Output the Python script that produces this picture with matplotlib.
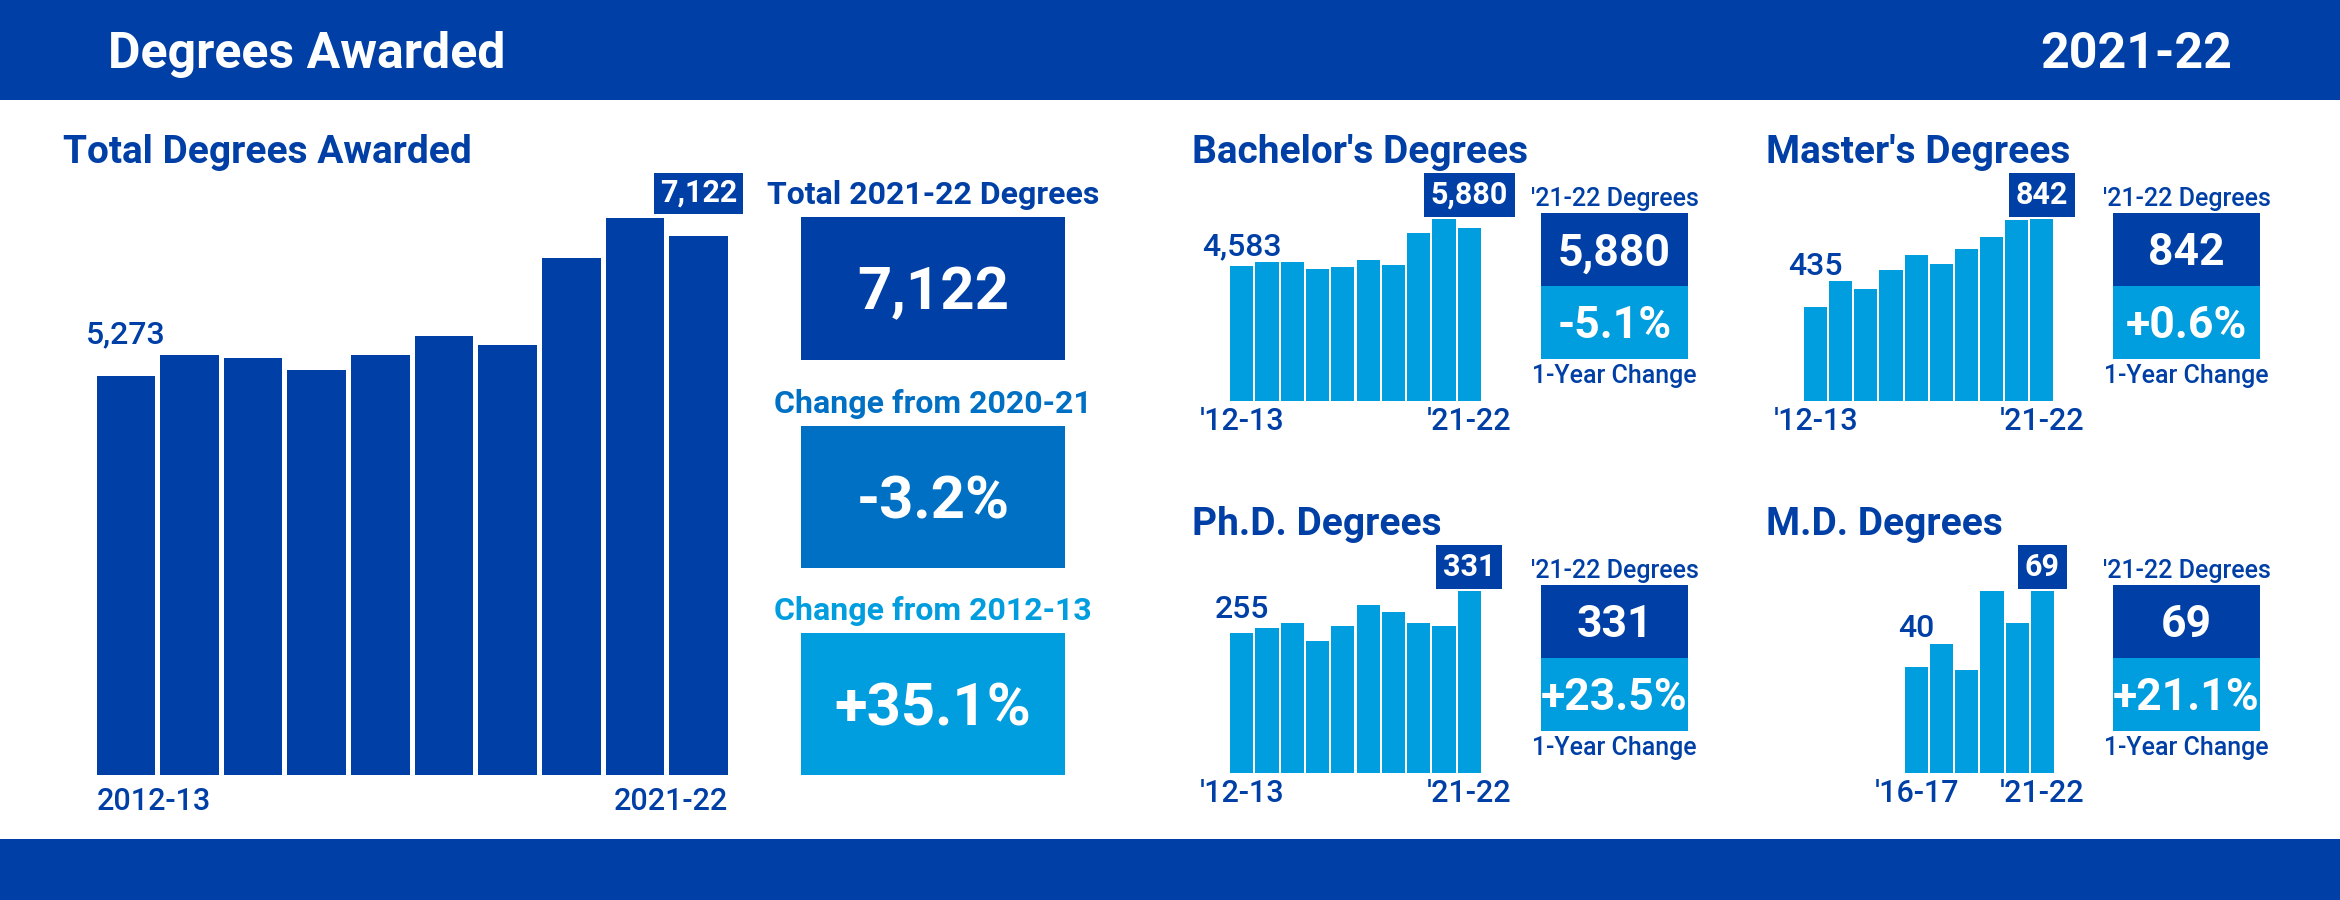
import matplotlib
matplotlib.use("Agg")
import matplotlib.pyplot as plt
from matplotlib.patches import Rectangle

plt.rcParams['font.family'] = ['Roboto', 'DejaVu Sans']

# ---------------- data ----------------
total_years = ['2012-13', '2013-14', '2014-15', '2015-16', '2016-17',
               '2017-18', '2018-19', '2019-20', '2020-21', '2021-22']
total = [5273, 5550, 5510, 5354, 5542, 5804, 5685, 6835, 7357, 7122]
bachelor = [4583, 4726, 4726, 4494, 4562, 4795, 4631, 5715, 6196, 5880]
master = [435, 556, 519, 607, 677, 635, 704, 760, 837, 842]
phd = [255, 264, 273, 240, 268, 306, 293, 273, 268, 331]
md = [40, 49, 39, 69, 57, 69]
short_first = ["'12-13", "'12-13", "'12-13", "'16-17"]
short_last = "'21-22"

# ---------------- styling ----------------
W, H = 2340, 900
DARK = '#003fa5'
MED = '#0070c4'
LIGHT = '#009ddf'
PX = 100 / 72.0  # pixels per point

fig = plt.figure(figsize=(W / 100, H / 100), dpi=100)
fig.patch.set_facecolor('white')


def rect(x0, y0, x1, y1, color):
    fig.add_artist(Rectangle((x0 / W, 1 - y1 / H), (x1 - x0) / W, (y1 - y0) / H,
                             transform=fig.transFigure, facecolor=color,
                             edgecolor='none', zorder=0))


def text(x, y, s, size, color, weight='bold', ha='left', va='baseline'):
    fig.text(x / W, 1 - y / H, s, fontsize=size, color=color, fontweight=weight,
             ha=ha, va=va)


def ctext(x, yc, s, size, color, weight='bold'):
    # vertically centre the cap/digit height on yc
    text(x, yc + 0.711 * size * PX / 2, s, size, color, weight, ha='center')


def fmt(v):
    return f'{v:,}'


def pct(a, b):
    return f'{(a / b - 1) * 100:+.1f}%'


# header / footer bands
rect(0, 0, W, 100, DARK)
rect(0, 839, W, H, DARK)
text(108, 68, 'Degrees Awarded', 36, 'white')
text(2232, 68, '2021-22', 36, 'white', ha='right')

# ---------------- total chart ----------------
text(63, 163, 'Total Degrees Awarded', 28, DARK)
unit = 63.63
left = 96.6 - 0.04 * unit
base, top = 775, 175
ax = fig.add_axes([left / W, 1 - base / H, 10 * unit / W, (base - top) / H])
ax.bar(range(len(total)), total, width=0.92, color=DARK)
ax.set_xlim(-0.5, len(total) - 0.5)
ax.set_ylim(0, max(total) * (base - top) / 557)
ax.axis('off')
ax.annotate(fmt(total[0]), xy=(0, total[0]), xytext=(0, 32), textcoords='offset pixels',
            ha='center', va='baseline', fontsize=23, fontweight='medium', color=DARK)
ax.annotate(fmt(total[-1]), xy=(len(total) - 1, max(total)), xytext=(0, 25),
            textcoords='offset pixels', ha='center', va='center', fontsize=22,
            fontweight='bold', color='white',
            bbox=dict(boxstyle='square,pad=0.18', fc=DARK, ec='none'))
ax.annotate(total_years[0], xy=(-0.46, 0), xytext=(0, -35), textcoords='offset pixels',
            ha='left', va='baseline', fontsize=22, fontweight='medium', color=DARK,
            annotation_clip=False)
ax.annotate(total_years[-1], xy=(len(total) - 0.54, 0), xytext=(0, -35),
            textcoords='offset pixels', ha='right', va='baseline', fontsize=22,
            fontweight='medium', color=DARK, annotation_clip=False)

# ---------------- main KPI column ----------------
kx0, kx1 = 801, 1065
kc = (kx0 + kx1) / 2
kpis = [('Total 2021-22 Degrees', fmt(total[-1]), DARK, DARK, 217, 360),
        ('Change from 2020-21', pct(total[-1], total[-2]), MED, MED, 426, 568),
        ('Change from 2012-13', pct(total[-1], total[0]), LIGHT, LIGHT, 633, 775)]
for label, val, tcol, bcol, y0, y1 in kpis:
    text(kc, y0 - 13, label, 23, tcol, ha='center')
    rect(kx0, y0, kx1, y1, bcol)
    ctext(kc, (y0 + y1) / 2, val, 43, 'white')


# ---------------- small multiples ----------------
def small(values, title, tx, tbase, bar_left, base, unit, first_lab, first_off,
          kx0, kx1, dark_top):
    n = len(values)
    text(tx, tbase, title, 28, DARK)
    left = bar_left - 0.04 * unit
    ax = fig.add_axes([left / W, 1 - base / H, n * unit / W, 201 / H])
    ax.bar(range(n), values, width=0.92, color=LIGHT)
    ax.set_xlim(-0.5, n - 0.5)
    ax.set_ylim(0, max(values) * 201 / 182)
    ax.axis('off')
    ax.annotate(fmt(values[0]), xy=(0, values[0]), xytext=(0, first_off),
                textcoords='offset pixels', ha='center', va='baseline', fontsize=23,
                fontweight='medium', color=DARK)
    ax.annotate(fmt(values[-1]), xy=(n - 1, max(values)), xytext=(0, 24),
                textcoords='offset pixels', ha='center', va='center', fontsize=22,
                fontweight='bold', color='white',
                bbox=dict(boxstyle='square,pad=0.22', fc=DARK, ec='none'))
    for i, lab in ((0, first_lab), (n - 1, short_last)):
        ax.annotate(lab, xy=(i, 0), xytext=(0, -29), textcoords='offset pixels',
                    ha='center', va='baseline', fontsize=22, fontweight='medium',
                    color=DARK, annotation_clip=False)
    # KPI block
    c = (kx0 + kx1) / 2
    text(c, dark_top - 7, "'21-22 Degrees", 18, DARK, weight='medium', ha='center')
    rect(kx0, dark_top, kx1, dark_top + 73, DARK)
    rect(kx0, dark_top + 73, kx1, dark_top + 146, LIGHT)
    ctext(c, dark_top + 36.5, fmt(values[-1]), 32, 'white')
    ctext(c, dark_top + 109.5, pct(values[-1], values[-2]), 32, 'white')
    text(c, dark_top + 170, '1-Year Change', 18, DARK, weight='medium', ha='center')


small(bachelor, "Bachelor's Degrees", 1192, 163, 1230, 401, 25.3, short_first[0], 11,
      1541, 1688, 213)
small(master, "Master's Degrees", 1766, 163, 1804, 401, 25.15, short_first[1], 32,
      2113, 2260, 213)
small(phd, "Ph.D. Degrees", 1192, 535, 1230, 773, 25.3, short_first[2], 15,
      1541, 1688, 585)
small(md, "M.D. Degrees", 1766, 535, 1905, 773, 25.15, short_first[3], 30,
      2113, 2260, 585)

fig.savefig('out.png', dpi=100, facecolor='white')
